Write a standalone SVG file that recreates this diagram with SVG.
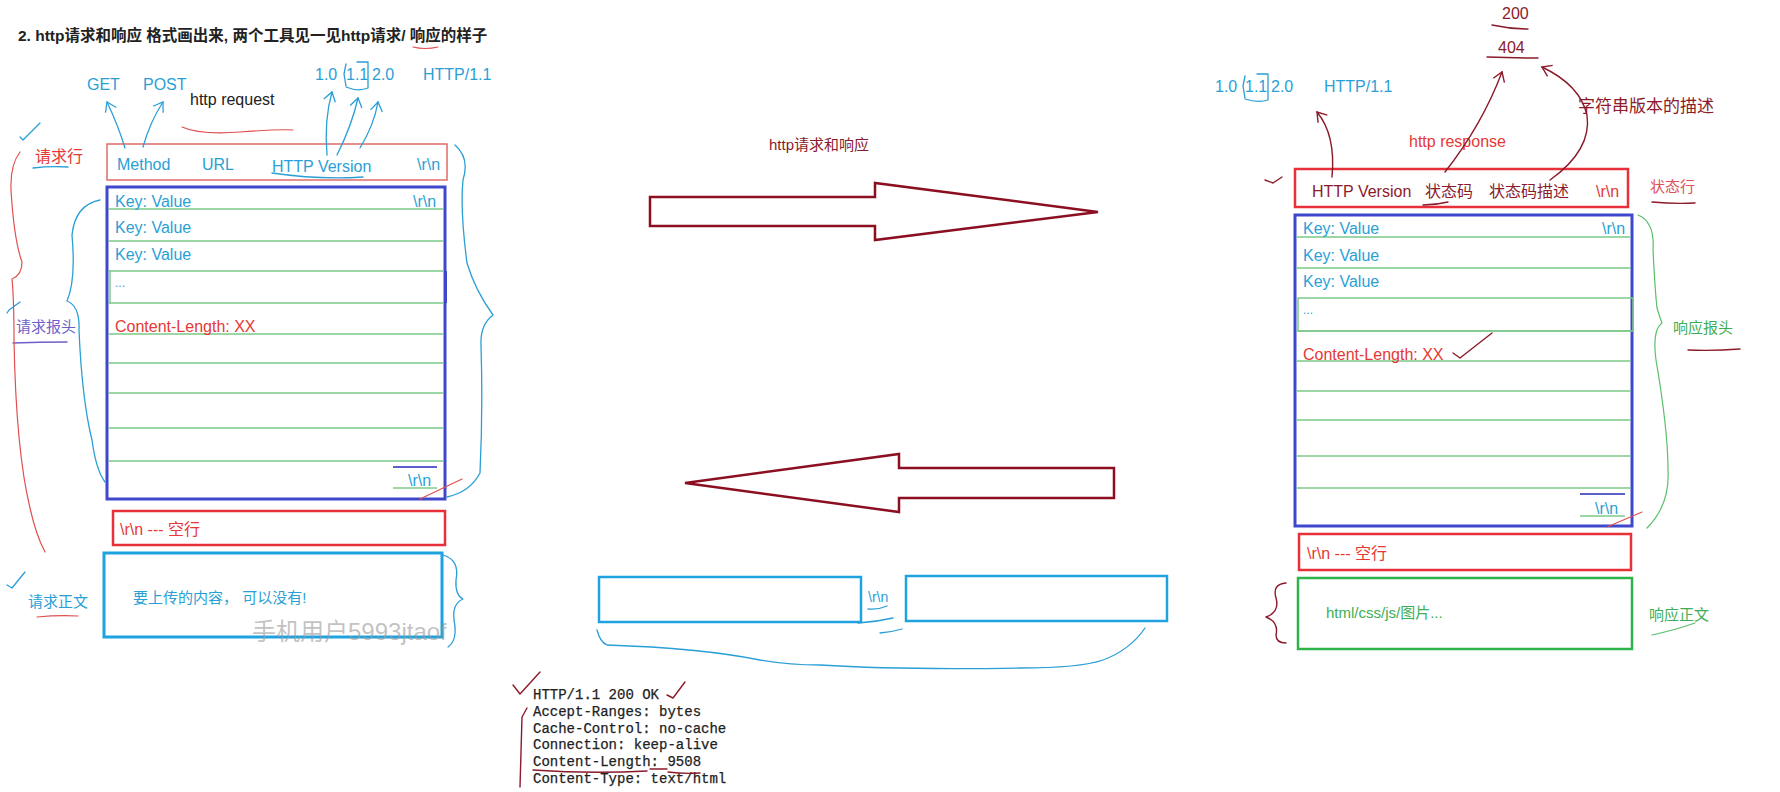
<svg xmlns="http://www.w3.org/2000/svg" width="1780" height="792" viewBox="0 0 1780 792">
<style>
.t{font-family:'Liberation Sans','Noto Sans CJK SC',sans-serif;font-size:16px}
.s15{font-size:15px}
.b{font-weight:bold}
.blue{fill:#2a9fd6}
.red{fill:#e53935}
.mar{fill:#8b1a2a}
.grn{fill:#3dae55}
.blk{fill:#222}
.mono{font-family:'Liberation Mono','DejaVu Sans Mono',monospace;font-size:14px;fill:#222;stroke:#222;stroke-width:0.25}
.ln{fill:none;stroke-linecap:round;stroke-linejoin:round}
.sb{stroke:#2a9fd6;stroke-width:1.3}
.sr{stroke:#e05050;stroke-width:1.2}
.sm{stroke:#8b1a2a;stroke-width:1.4}
.sg{stroke:#5cbf6a;stroke-width:1.2}
.gl{stroke:#7cc98a;stroke-width:1.5}
.hbox{fill:none;stroke:#3f48cc;stroke-width:3}
.bigarrow{fill:#fff;stroke:#8b0f20;stroke-width:2.5;stroke-linejoin:miter}
</style>
<defs>
<marker id="ab" viewBox="-11 -8 13 16" refX="0" refY="0" markerWidth="13" markerHeight="16" markerUnits="userSpaceOnUse" orient="auto">
<path d="M-9,-6 L0,0 L-9,6" fill="none" stroke="#2a9fd6" stroke-width="1.3"/>
</marker>
<marker id="am" viewBox="-11 -8 13 16" refX="0" refY="0" markerWidth="13" markerHeight="16" markerUnits="userSpaceOnUse" orient="auto">
<path d="M-9,-6 L0,0 L-9,6" fill="none" stroke="#8b1a2a" stroke-width="1.4"/>
</marker>
</defs>
<rect width="1780" height="792" fill="#fff"/>

<g id="title">
<text class="t b blk" x="18" y="41" style="font-size:15.5px">2. http请求和响应 格式画出来, 两个工具见一见http请求/ 响应的样子</text>
<path class="ln sr" d="M413,47 Q425,50 438,47"/>
</g>

<g id="req-annotations">
<text class="t blue" x="87" y="90">GET</text>
<text class="t blue" x="143" y="90">POST</text>
<text class="t blk" x="190" y="105">http request</text>
<path class="ln sr" d="M182,127 Q200,135 240,132 T293,130"/>
<text class="t blue" x="315" y="80">1.0</text>
<text class="t blue" x="346" y="80">1.1</text>
<text class="t blue" x="372" y="80">2.0</text>
<text class="t blue" x="423" y="80">HTTP/1.1</text>
<path class="ln sb" d="M357,62 L368,62 L368,88 Q358,92 346,87 M346,64 L344,74 L346,86"/>
<path class="ln sb" d="M20,137 L23,140 L40,123"/>
</g>

<g id="req-line">
<rect x="107" y="144" width="340" height="36" fill="none" stroke="#e06a6a" stroke-width="1.5"/>
<text class="t blue" x="117" y="170">Method</text>
<text class="t blue" x="202" y="170">URL</text>
<text class="t blue" x="272" y="172">HTTP Version</text>
<text class="t blue" x="417" y="170">\r\n</text>
<text class="t red" x="35" y="162">请求行</text>
<path class="ln sb" d="M33,168 Q50,166 68,167"/>
<path class="ln sb" d="M272,173 Q320,180 363,177"/>
</g>

<g id="req-headers">
<rect class="hbox" x="107" y="187" width="338" height="312"/>
<g class="ln gl">
<path d="M109,209 H443 M109,241 H443 M109,271 H443 M109,303 H443 M109,334 H443 M109,363 H443 M109,393 H443 M109,428 H443 M109,461 H443"/>
<path d="M110,271 V303"/>
</g>
<path d="M446,271 V303" stroke="#3f48cc" stroke-width="2" fill="none"/>
<text class="t blue" x="115" y="207">Key: Value</text>
<text class="t blue" x="115" y="233">Key: Value</text>
<text class="t blue" x="115" y="260">Key: Value</text>
<text class="t blue" x="115" y="287" style="font-size:12px">...</text>
<text class="t red" x="115" y="332">Content-Length: XX</text>
<text class="t blue" x="413" y="207">\r\n</text>
<text class="t blue" x="408" y="486">\r\n</text>
<path d="M393,467 H437" stroke="#5b5fc7" stroke-width="2" fill="none"/>
<path d="M393,488 H437" stroke="#7cc98a" stroke-width="1.5" fill="none"/>
<path class="ln sr" d="M420,499 L462,479"/>
<text class="t s15" x="16" y="332" fill="#6d5fc9">请求报头</text>
<path class="ln" d="M13,343 Q40,342 67,342" stroke="#6d5fc9" stroke-width="1.3"/>
<path class="ln sb" d="M7,313 L9,310 L20,302"/>
</g>

<g id="req-empty-line">
<rect x="113" y="511" width="332" height="34" fill="none" stroke="#e8303a" stroke-width="2.5"/>
<text class="t red" x="120" y="535">\r\n --- 空行</text>
</g>

<g id="req-body">
<rect x="104" y="553" width="338" height="84" fill="none" stroke="#1ea3e0" stroke-width="3"/>
<text class="t s15 blue" x="133" y="603">要上传的内容， 可以没有!</text>
<text class="t s15 blue" x="28" y="607">请求正文</text>
<path class="ln sr" d="M37,617 Q58,615 78,616"/>
<path class="ln sb" d="M7,585 L12,588 L25,572"/>
<text class="t" x="252" y="640" style="font-size:24px" fill="#999" fill-opacity="0.6">手机用户5993jtaof</text>
</g>

<g id="middle">
<text class="t" x="769" y="150" style="font-size:15px" fill="#8b1a2a">http请求和响应</text>
<polygon class="bigarrow" points="650,197 875,197 875,183 1098,212 875,240 875,226 650,226"/>
<polygon class="bigarrow" points="685,483 899,454 899,468 1114,468 1114,498 899,498 899,512"/>
<rect x="599" y="577" width="262" height="45" fill="none" stroke="#1ea3e0" stroke-width="2.5"/>
<text class="t blue" x="868" y="602" style="font-size:14px">\r\n</text>
<rect x="906" y="576" width="261" height="45" fill="none" stroke="#1ea3e0" stroke-width="2.5"/>
<path class="ln sb" d="M868,609 Q878,610 887,606 M858,623 Q876,622 893,618 M880,633 Q892,632 902,629"/>
<path class="ln sb" d="M597,630 Q600,642 607,645 Q700,648 760,660 Q790,665 820,665 Q900,670 1020,668 Q1080,668 1103,660 Q1130,650 1145,628"/>
</g>

<g id="raw-response">
<text class="mono" x="533" y="699">HTTP/1.1 200 OK</text>
<text class="mono" x="533" y="716">Accept-Ranges: bytes</text>
<text class="mono" x="533" y="733">Cache-Control: no-cache</text>
<text class="mono" x="533" y="749">Connection: keep-alive</text>
<text class="mono" x="533" y="766">Content-Length: 9508</text>
<text class="mono" x="533" y="783">Content-Type: text/html</text>
<g class="ln sm" stroke="#a02040">
<path d="M513,685 L520,694 L540,672"/>
<path d="M667,695 L673,698 L685,682"/>
<path d="M527,708 L522,717 L520,787"/>
<path d="M533,770 Q590,774 647,771 M650,769 H667 M668,772 Q684,774 700,773"/>
</g>
</g>

<g id="resp-annotations">
<text class="t mar" x="1502" y="19">200</text>
<text class="t mar" x="1498" y="53">404</text>
<path class="ln sm" d="M1492,25 Q1510,29 1528,29 M1487,57 Q1512,58 1538,58"/>
<text class="t blue" x="1215" y="92">1.0</text>
<text class="t blue" x="1245" y="92">1.1</text>
<text class="t blue" x="1271" y="92">2.0</text>
<text class="t blue" x="1324" y="92">HTTP/1.1</text>
<path class="ln sb" d="M1257,74 L1268,74 L1268,100 Q1258,103 1245,99 M1245,76 L1243,86 L1245,98"/>
<text class="t mar" x="1578" y="112" style="font-size:17px">字符串版本的描述</text>
<text class="t red" x="1409" y="147">http response</text>
<path class="ln sm" d="M1265,180 L1273,183 L1282,177"/>
</g>

<g id="resp-status-line">
<rect x="1295" y="169" width="333" height="38" fill="none" stroke="#e8303a" stroke-width="2.5"/>
<text class="t mar" x="1312" y="197">HTTP Version</text>
<text class="t mar" x="1425" y="197">状态码</text>
<text class="t mar" x="1489" y="197">状态码描述</text>
<text class="t red" x="1596" y="197">\r\n</text>
<path class="ln sm" d="M1423,205 Q1436,205 1448,202"/>
<text class="t s15" x="1650" y="192" fill="#e0505a">状态行</text>
<path class="ln sm" d="M1652,202 Q1674,204 1695,203"/>
</g>

<g id="resp-headers">
<rect class="hbox" x="1295" y="215" width="337" height="311"/>
<g class="ln gl">
<path d="M1297,237 H1630 M1297,268 H1630 M1297,331 H1630 M1297,361 H1630 M1297,391 H1630 M1297,420 H1630 M1297,456 H1630 M1297,488 H1630"/>
<rect x="1298" y="298" width="335" height="33"/>
</g>
<text class="t blue" x="1303" y="234">Key: Value</text>
<text class="t blue" x="1303" y="261">Key: Value</text>
<text class="t blue" x="1303" y="287">Key: Value</text>
<text class="t blue" x="1303" y="314" style="font-size:12px">...</text>
<text class="t red" x="1303" y="360">Content-Length: XX</text>
<path class="ln sm" d="M1453,353 L1460,358 L1492,333"/>
<text class="t blue" x="1602" y="234">\r\n</text>
<text class="t blue" x="1595" y="514">\r\n</text>
<path d="M1580,494 H1625" stroke="#5b5fc7" stroke-width="2" fill="none"/>
<path d="M1580,516 H1625" stroke="#7cc98a" stroke-width="1.5" fill="none"/>
<path class="ln sr" d="M1607,527 L1642,512"/>
<text class="t s15 grn" x="1673" y="333">响应报头</text>
<path class="ln sm" d="M1688,350 Q1714,351 1740,349"/>
</g>

<g id="resp-empty-line">
<rect x="1299" y="534" width="332" height="36" fill="none" stroke="#e8303a" stroke-width="2.5"/>
<text class="t red" x="1307" y="559">\r\n --- 空行</text>
</g>

<g id="resp-body">
<rect x="1298" y="578" width="334" height="71" fill="none" stroke="#2db34a" stroke-width="2.5"/>
<text class="t s15 grn" x="1326" y="618">html/css/js/图片...</text>
<text class="t s15 grn" x="1649" y="620">响应正文</text>
<path class="ln sg" d="M1652,635 Q1675,630 1695,623"/>
</g>

<g id="connectors">
<g class="ln sb">
<path d="M125,148 Q118,125 107,102" marker-end="url(#ab)"/>
<path d="M143,147 Q150,122 163,102" marker-end="url(#ab)"/>
<path d="M327,155 Q324,120 332,92" marker-end="url(#ab)"/>
<path d="M337,155 Q352,125 358,98" marker-end="url(#ab)"/>
<path d="M360,148 Q374,125 378,102" marker-end="url(#ab)"/>
<path d="M455,145 Q470,158 463,180 Q460,210 467,263 Q475,290 493,315 Q480,325 481,345 Q483,410 480,473 Q470,492 447,497"/>
<path d="M100,200 Q75,205 72,235 Q76,280 67,301 Q80,306 79,330 Q82,400 92,440 Q96,470 105,482"/>
<path d="M443,555 Q460,560 456,580 Q455,595 463,599 Q452,604 454,620 Q458,640 448,647"/>
</g>
<path class="ln sr" d="M20,152 Q10,165 11,190 Q14,240 22,262 Q22,275 12,279 Q14,300 14,340 Q16,450 30,508 Q36,535 45,552"/>
<g class="ln sm">
<path d="M1332,177 Q1336,135 1317,112" marker-end="url(#am)"/>
<path d="M1445,172 Q1482,125 1502,72" marker-end="url(#am)"/>
<path d="M1550,180 Q1592,150 1587,115 Q1580,85 1542,67" marker-end="url(#am)"/>
<path d="M1286,583 Q1272,584 1276,598 Q1280,612 1266,617 Q1279,622 1276,635 Q1276,643 1286,643"/>
</g>
<path class="ln sg" d="M1638,215 Q1655,222 1653,250 Q1655,290 1657,308 Q1660,318 1662,323 Q1652,330 1656,360 Q1668,430 1668,470 Q1670,505 1647,528"/>
</g>
</svg>
